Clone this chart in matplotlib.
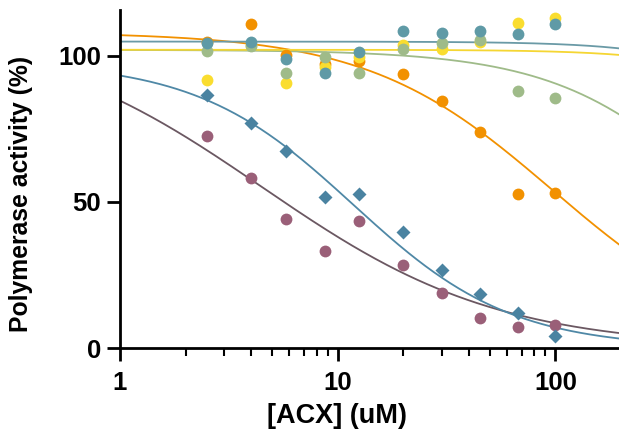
import numpy as np
import matplotlib.pyplot as plt

plt.rcParams['font.family'] = ['Liberation Sans', 'DejaVu Sans']
plt.rcParams['font.weight'] = 'bold'

# concentrations (uM)
conc = [2.5, 4.0, 5.8, 8.7, 12.5, 20, 30, 45, 67, 100]

# measured activity (%)
blue_d = [86.5, 76.8, 67.5, 51.5, 52.7, 39.6, 26.7, 18.4, 11.8, 4.2]
purple = [72.5, 58.0, 44.1, 33.3, 43.3, 28.4, 18.7, 10.1, 7.1, 7.9]
orange = [104.7, 110.7, 100.2, 97.0, 98.2, 93.6, 84.4, 73.8, 52.6, 52.9]
yellow = [91.7, 103.8, 90.7, 96.2, 99.6, 103.8, 102.1, 104.7, 111.2, 112.7]
green = [101.6, 103.3, 94.2, 99.6, 94.2, 102.1, 104.4, 105.5, 87.9, 85.4]
teal = [104.2, 104.7, 98.8, 93.9, 101.3, 108.5, 107.8, 108.5, 107.4, 110.8]

# fitted curves: bottom, top, IC50, hill slope
fit_blue = [0, 98, 11.8, 1.2]
fit_purple = [0, 110, 4.5, 0.8]
fit_orange = [0, 108, 97, 1.02]
fit_yellow = [0, 102, 2900, 1.5]
fit_green = [0, 102, 600, 1.15]
fit_teal = [0, 104.8, 2450, 1.5]


def hill(x, p):
    b, t, c, h = p
    return b + (t - b) / (1 + (x / c) ** h)


xf = np.logspace(0, np.log10(196), 300)

fig = plt.figure(figsize=(6.19, 4.36), dpi=100)
ax = fig.add_axes([120 / 619, 88 / 436, 499 / 619, 338 / 436])

ax.plot(xf, hill(xf, fit_orange), color='#f29100', lw=1.3, zorder=2)
ax.plot(xf, hill(xf, fit_green), color='#9fbb89', lw=1.3, zorder=2)
ax.plot(xf, hill(xf, fit_yellow), color='#f5d633', lw=1.3, zorder=2)
ax.plot(xf, hill(xf, fit_teal), color='#6a9aa6', lw=1.3, zorder=2)
ax.plot(xf, hill(xf, fit_purple), color='#6b5862', lw=1.3, zorder=2)
ax.plot(xf, hill(xf, fit_blue), color='#4f88a6', lw=1.3, zorder=2)

ms = 8.5
ax.plot(conc, orange, 'o', color='#f29100', ms=ms, mec='none', zorder=3)
ax.plot(conc, yellow, 'o', color='#fadd2f', ms=ms, mec='none', zorder=3)
ax.plot(conc, green, 'o', color='#9fbb89', ms=ms, mec='none', zorder=3)
ax.plot(conc, teal, 'o', color='#5f9aa6', ms=ms, mec='none', zorder=3)
ax.plot(conc, purple, 'o', color='#9a5f78', ms=ms, mec='none', zorder=3)
ax.plot(conc, blue_d, 'D', color='#4a83a1', ms=7, mec='none', zorder=3)

ax.set_xscale('log')
ax.set_xlim(1, 196)
ax.set_ylim(0, 115.6)
ax.set_yticks([0, 50, 100])
ax.set_xticks([1, 10, 100])
ax.set_xticklabels(['1', '10', '100'])

for s in ['top', 'right']:
    ax.spines[s].set_visible(False)
for s in ['left', 'bottom']:
    ax.spines[s].set_linewidth(2.0)

ax.tick_params(which='major', length=9.5, width=2.0, labelsize=18.5, pad=4)
ax.tick_params(axis='x', which='major', pad=7)
ax.tick_params(which='minor', length=6, width=1.5)
ax.tick_params(axis='y', which='minor', left=False)

ax.set_xlabel('[ACX] (uM)', fontsize=19.5, fontweight='bold')
ax.set_ylabel('Polymerase activity (%)', fontsize=17.8, fontweight='bold')
ax.xaxis.set_label_coords(0.435, -0.163)
ax.yaxis.set_label_coords(-0.174, 0.456)

fig.savefig('out.png', dpi=100)
